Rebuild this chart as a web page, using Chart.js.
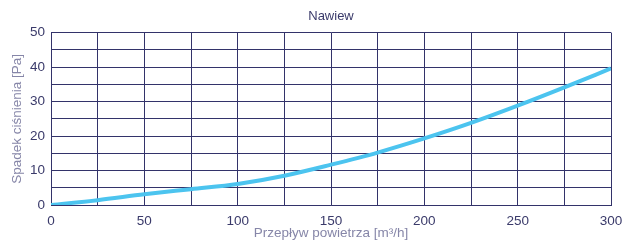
<!DOCTYPE html>
<html>
<head>
<meta charset="utf-8">
<script src="https://cdn.jsdelivr.net/npm/chart.js@4"></script>
<style>
	html, body { margin: 0; padding: 0; background: #ffffff; }
	#wrap { width: 622px; height: 241px; }
</style>
</head>
<body>
<div id="wrap"><canvas id="chart" width="622" height="241"></canvas></div>
<script>
// air flow [m3/h] and pressure drop [Pa]
const flow = [0, 25, 50, 75, 100, 125, 150, 175, 200, 225, 250, 275, 300];
const pressure = [0, 1.4, 3.1, 4.6, 6.1, 8.5, 11.7, 15.2, 19.3, 23.8, 28.8, 34.1, 39.6];

const gridColor = '#33336a';
const tickColor = '#3a3a6a';
const titleColor = '#8686a8';

const points = flow.map((x, i) => ({ x: x, y: pressure[i] }));

new Chart(document.getElementById('chart').getContext('2d'), {
	type: 'line',
	data: {
		datasets: [{
			label: 'Nawiew',
			data: points,
			borderColor: '#4cc4ef',
			borderWidth: 4,
			pointRadius: 0,
			fill: false,
			cubicInterpolationMode: 'monotone'
		}]
	},
	options: {
		responsive: false,
		animation: false,
		layout: { padding: { left: 0, right: 0, top: 0, bottom: 0 } },
		plugins: {
			legend: { display: false },
			tooltip: { enabled: false },
			title: {
				display: true,
				fullSize: false,
				text: 'Nawiew',
				color: tickColor,
				font: { family: 'Arial, Liberation Sans', size: 13, weight: 'normal' },
				padding: { top: 9, bottom: 8 }
			}
		},
		scales: {
			x: {
				type: 'linear',
				min: 0,
				max: 300,
				afterFit: (scale) => {
					scale.height = 36;
					scale.paddingLeft = 0;
					scale.paddingRight = 11;
				},
				grid: { color: gridColor, lineWidth: 1, drawTicks: false },
				border: { color: gridColor, width: 1 },
				ticks: {
					stepSize: 25,
					autoSkip: false,
					maxRotation: 0,
					padding: 8,
					color: tickColor,
					font: { family: 'Arial, Liberation Sans', size: 13.5 },
					callback: (v) => (v % 50 === 0 ? v : '')
				},
				title: {
					display: true,
					text: 'Przepływ powietrza [m³/h]',
					color: titleColor,
					font: { family: 'Arial, Liberation Sans', size: 13.5 },
					padding: { top: 1, bottom: 0 }
				}
			},
			y: {
				min: 0,
				max: 50,
				afterFit: (scale) => { scale.width = 51; },
				grid: { color: gridColor, lineWidth: 1, drawTicks: false },
				border: { color: gridColor, width: 1 },
				ticks: {
					stepSize: 5,
					autoSkip: false,
					padding: 6,
					color: tickColor,
					font: { family: 'Arial, Liberation Sans', size: 13.5 },
					callback: (v) => (v % 10 === 0 ? v : '')
				},
				title: {
					display: true,
					text: 'Spadek ciśnienia [Pa]',
					color: titleColor,
					font: { family: 'Arial, Liberation Sans', size: 13.5 },
					padding: { top: 9, bottom: 0 }
				}
			}
		}
	}
});
</script>
</body>
</html>
